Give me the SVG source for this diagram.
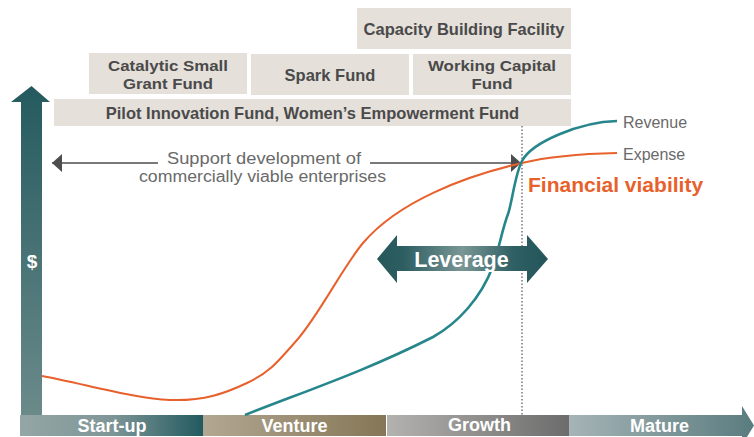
<svg xmlns="http://www.w3.org/2000/svg" width="754" height="437" viewBox="0 0 754 437">
<style>
.box{fill:#e5e0da}
.bt{font-family:"Liberation Sans",Arial,sans-serif;font-weight:bold;font-size:16.5px;fill:#4a4a4a;text-anchor:middle}
.bt2{font-family:"Liberation Sans",Arial,sans-serif;font-weight:bold;font-size:15px;fill:#4a4a4a;text-anchor:middle}
.stage{font-family:"Liberation Sans",Arial,sans-serif;font-weight:bold;font-size:18px;fill:#ffffff;text-anchor:middle}
.lbl{font-family:"Liberation Sans",Arial,sans-serif;font-size:16px;fill:#6a6a6a}
.sup{font-family:"Liberation Sans",Arial,sans-serif;font-size:16px;fill:#6a6a6a;text-anchor:middle}
</style>
<defs>
<linearGradient id="gV" x1="0" y1="0" x2="0" y2="1"><stop offset="0" stop-color="#245a5f"/><stop offset="1" stop-color="#6b8a8a"/></linearGradient>
<linearGradient id="gS" x1="0" y1="0" x2="1" y2="0"><stop offset="0" stop-color="#94a6a5"/><stop offset="0.5" stop-color="#7f9697"/><stop offset="1" stop-color="#225a5f"/></linearGradient>
<linearGradient id="gVe" x1="0" y1="0" x2="1" y2="0"><stop offset="0" stop-color="#b2a792"/><stop offset="1" stop-color="#857656"/></linearGradient>
<linearGradient id="gG" x1="0" y1="0" x2="1" y2="0"><stop offset="0" stop-color="#b4b2af"/><stop offset="1" stop-color="#6c6c6c"/></linearGradient>
<linearGradient id="gM" x1="0" y1="0" x2="1" y2="0"><stop offset="0" stop-color="#a6b4b6"/><stop offset="1" stop-color="#5a7c7f"/></linearGradient>
<linearGradient id="gL" x1="377" y1="0" x2="548" y2="0" gradientUnits="userSpaceOnUse"><stop offset="0" stop-color="#26575b"/><stop offset="0.15" stop-color="#2c5d61"/><stop offset="0.5" stop-color="#7a9695"/><stop offset="0.8" stop-color="#2e5f63"/><stop offset="1" stop-color="#24555a"/></linearGradient>
<marker id="ah" viewBox="0 0 10 18" refX="10" refY="9" markerWidth="10" markerHeight="18" markerUnits="userSpaceOnUse" orient="auto-start-reverse"><path d="M0,0 L10,9 L0,18 Z" fill="#4d4d4d"/></marker>
</defs>
<rect width="754" height="437" fill="#ffffff"/>

<g id="funds">
<g id="capacity"><rect class="box" x="357" y="8" width="214" height="41"/><text class="bt" x="464" y="35">Capacity Building Facility</text></g>
<g id="catalytic"><rect class="box" x="89" y="53" width="158" height="41"/><text class="bt2" x="168" y="71.3" textLength="120" lengthAdjust="spacingAndGlyphs">Catalytic Small</text><text class="bt2" x="168" y="88.6" textLength="90" lengthAdjust="spacingAndGlyphs">Grant Fund</text></g>
<g id="spark"><rect class="box" x="251" y="54" width="158" height="41"/><text class="bt" x="330" y="81">Spark Fund</text></g>
<g id="working"><rect class="box" x="413" y="54" width="158" height="41"/><text class="bt2" x="492" y="71.3" textLength="128" lengthAdjust="spacingAndGlyphs">Working Capital</text><text class="bt2" x="492" y="88.6" textLength="41" lengthAdjust="spacingAndGlyphs">Fund</text></g>
<g id="pilot"><rect class="box" x="54" y="99" width="517" height="27"/><text class="bt" x="312.5" y="118.5">Pilot Innovation Fund, Women’s Empowerment Fund</text></g>
</g>

<g id="axis-y">
<path d="M21,415 L21,102 L11,102 L31.5,86 L50,102 L42,102 L42,415 Z" fill="url(#gV)"/>
<text x="32" y="268" style="font-family:'Liberation Sans',Arial,sans-serif;font-weight:bold;font-size:19px;fill:#fff;text-anchor:middle">$</text>
</g>

<g id="stages">
<g id="startup"><rect x="20" y="415" width="183" height="21" fill="url(#gS)"/><text class="stage" x="112" y="432">Start-up</text></g>
<g id="venture"><rect x="203" y="415" width="183" height="21" fill="url(#gVe)"/><text class="stage" x="294.5" y="432">Venture</text></g>
<g id="growth"><rect x="387" y="415" width="182" height="21" fill="url(#gG)"/><text class="stage" x="479.5" y="431">Growth</text></g>
<g id="mature"><path d="M569,415 L742,415 L742,406 L754,425.5 L742,445 L742,436 L569,436 Z" fill="url(#gM)"/><text class="stage" x="659.5" y="432">Mature</text></g>
</g>

<g id="connectors" fill="none">
<line x1="522" y1="126" x2="522" y2="415" stroke="#555" stroke-width="1.2" stroke-dasharray="1.5,2"/>
<line x1="158" y1="163" x2="52" y2="163" stroke="#4d4d4d" stroke-width="1.6" marker-end="url(#ah)"/>
<line x1="370" y1="163" x2="521" y2="163" stroke="#4d4d4d" stroke-width="1.6" marker-end="url(#ah)"/>
<path id="expense" d="M42,376 C84.7,384 135.8,398.8 170,400 C204.2,401.2 225.8,393 247,383 C268.2,373 274.8,365.5 297,340 C319,315 343,266.8 363,243 C398,201.5 465,176 522,163 C552,155.7 585,153.7 617,153" stroke="#e8612c" stroke-width="2"/>
<path id="revenue" d="M245,415 C300,393 364,372 433,337 C458,323 481,298 493,266 C500,245 502,230 508,214 C512,203 515,174 522,161 C532,142 580,122 617,121" stroke="#26868b" stroke-width="2.6"/>
</g>

<g id="support-label">
<text class="sup" x="264" y="163.5" textLength="194" lengthAdjust="spacingAndGlyphs">Support development of</text>
<text class="sup" x="262.5" y="182" textLength="247" lengthAdjust="spacingAndGlyphs">commercially viable enterprises</text>
</g>

<g id="leverage">
<path d="M377,259 L397,235 L397,246 L527,246 L527,235 L548,259 L527,283 L527,271 L397,271 L397,283 Z" fill="url(#gL)"/>
<text x="461.5" y="266.5" style="font-family:'Liberation Sans',Arial,sans-serif;font-weight:bold;font-size:21.5px;fill:#fff;text-anchor:middle">Leverage</text>
</g>

<g id="labels">
<text class="lbl" x="623" y="127.5">Revenue</text>
<text class="lbl" x="623" y="160">Expense</text>
<text x="528" y="192" style="font-family:'Liberation Sans',Arial,sans-serif;font-weight:bold;font-size:21px;fill:#e8612c">Financial viability</text>
</g>
</svg>
